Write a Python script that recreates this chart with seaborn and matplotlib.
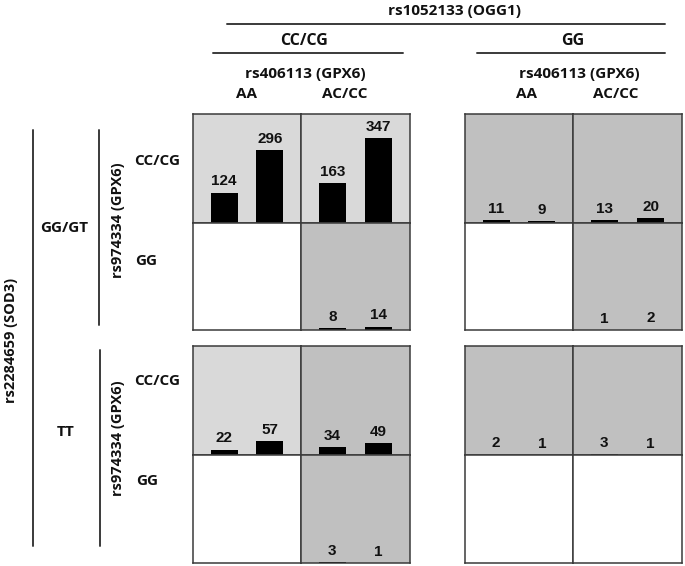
import matplotlib
matplotlib.use('Agg')
import matplotlib.pyplot as plt
from matplotlib.lines import Line2D
import seaborn as sns

sns.set_style('white')
plt.rcParams['font.family'] = ['Liberation Sans', 'DejaVu Sans']

# genotype levels
ogg1_levels = ['CC/CG', 'GG']            # rs1052133 (OGG1), column blocks
gpx6_406_levels = ['AA', 'AC/CC']        # rs406113 (GPX6), columns inside a block
sod3_levels = ['GG/GT', 'TT']            # rs2284659 (SOD3), row blocks
gpx6_974_levels = ['CC/CG', 'GG']        # rs974334 (GPX6), rows inside a block
bar_groups = ['first', 'second']

# counts per cell, order: OGG1 CC/CG (AA, AC/CC), OGG1 GG (AA, AC/CC); None = empty cell
gggt_cccg = [[124, 296], [163, 347], [11, 9], [13, 20]]
gggt_gg = [None, [8, 14], None, [1, 2]]
tt_cccg = [[22, 57], [34, 49], [2, 1], [3, 1]]
tt_gg = [None, [3, 1], None, None]

# cell shading
LIGHT, DARK, WHITE = '#d9d9d9', '#c0c0c0', '#ffffff'
gggt_cccg_shade = [LIGHT, LIGHT, DARK, DARK]
gggt_gg_shade = [WHITE, DARK, WHITE, DARK]
tt_cccg_shade = [LIGHT, DARK, DARK, DARK]
tt_gg_shade = [WHITE, DARK, WHITE, WHITE]

W, H = 685, 566
fig = plt.figure(figsize=(W / 100, H / 100), dpi=100)

HEAD = ['Open Sans', 'DejaVu Sans']
EDGE = '#3a3a3a'


def fx(x):
    return x / W


def fy(y):
    return 1 - y / H


def cell_axes(x0, y0, x1, y1):
    return fig.add_axes([fx(x0), fy(y1), (x1 - x0) / W, (y1 - y0) / H])


def draw_cell(ax, vals, shade):
    ax.set_facecolor(shade)
    if vals is not None:
        sns.barplot(x=bar_groups, y=vals, color='black', saturation=1,
                    width=0.59, linewidth=0, ax=ax)
        ax.bar_label(ax.containers[0], padding=3, fontsize=11,
                     fontweight='bold', color='#111111')
    ax.set_xlim(-0.68, 1.68)
    ax.set_ylim(0, 445)
    ax.set_xticks([])
    ax.set_yticks([])
    ax.set_xlabel('')
    ax.set_ylabel('')
    for s in ax.spines.values():
        s.set_color(EDGE)
        s.set_linewidth(1.1)


col_edges = [(193, 301), (301, 410), (465, 573), (573, 682)]
row_edges = {
    'gggt_cccg': (114, 223), 'gggt_gg': (223, 330),
    'tt_cccg': (346, 455), 'tt_gg': (455, 563),
}
rows = [
    ('gggt_cccg', gggt_cccg, gggt_cccg_shade),
    ('gggt_gg', gggt_gg, gggt_gg_shade),
    ('tt_cccg', tt_cccg, tt_cccg_shade),
    ('tt_gg', tt_gg, tt_gg_shade),
]
for key, data, shades in rows:
    y0, y1 = row_edges[key]
    for (x0, x1), vals, shade in zip(col_edges, data, shades):
        draw_cell(cell_axes(x0, y0, x1, y1), vals, shade)


def label(x, y, s, size=11, rot=0):
    fig.text(fx(x), fy(y), s, ha='center', va='center', fontsize=size,
             fontweight='bold', family=HEAD, rotation=rot, color='#111111')


def hline(x0, x1, y):
    fig.add_artist(Line2D([fx(x0), fx(x1)], [fy(y), fy(y)], color=EDGE, lw=1.4))


def vline(x, y0, y1):
    fig.add_artist(Line2D([fx(x), fx(x)], [fy(y0), fy(y1)], color=EDGE, lw=1.4))


# column headers
label(455, 11, 'rs1052133 (OGG1)', 11)
hline(227, 665, 24)
label(304, 41, ogg1_levels[0], 11.5)
label(573, 41, ogg1_levels[1], 11.5)
hline(213, 403, 53)
hline(477, 665, 53)
label(305, 74, 'rs406113 (GPX6)', 11)
label(579, 74, 'rs406113 (GPX6)', 11)
label(247, 94, gpx6_406_levels[0], 11)
label(345, 94, gpx6_406_levels[1], 11)
label(527, 94, gpx6_406_levels[0], 11)
label(616, 94, gpx6_406_levels[1], 11)

# row headers
label(11, 340, 'rs2284659 (SOD3)', 10.5, 90)
vline(33, 130, 546)
label(64, 228, sod3_levels[0], 11)
label(66, 432, sod3_levels[1], 11)
vline(99, 130, 325)
vline(100, 350, 546)
label(118, 220, 'rs974334 (GPX6)', 10.5, 90)
label(118, 438, 'rs974334 (GPX6)', 10.5, 90)
label(157, 161, gpx6_974_levels[0], 11)
label(146, 261, gpx6_974_levels[1], 11)
label(157, 381, gpx6_974_levels[0], 11)
label(147, 481, gpx6_974_levels[1], 11)

fig.savefig('out.png', dpi=100)
